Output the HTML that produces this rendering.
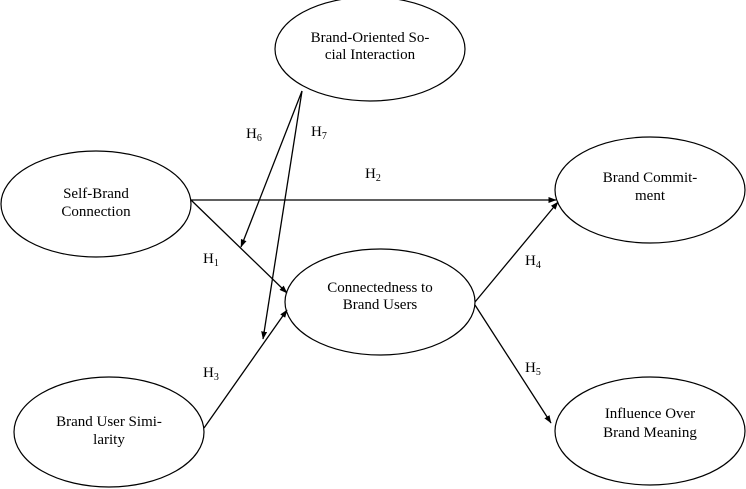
<!DOCTYPE html>
<html><head><style>body{margin:0;background:#fff}svg{display:block}text{font-family:"Liberation Serif","Times New Roman",serif;font-size:15px}</style></head><body>
<svg width="746" height="489" viewBox="0 0 746 489" xmlns="http://www.w3.org/2000/svg">
<defs><marker id="a" markerWidth="8" markerHeight="6" refX="7.5" refY="3" orient="auto" markerUnits="userSpaceOnUse"><path d="M0,0 L8,3 L0,6 z" fill="#000"/></marker></defs>
<g fill="none" stroke="#000" stroke-width="1.2">
<ellipse cx="370" cy="49" rx="95" ry="52"/>
<ellipse cx="96" cy="204" rx="95" ry="53"/>
<ellipse cx="650" cy="190" rx="95" ry="53"/>
<ellipse cx="380" cy="302" rx="95" ry="53"/>
<ellipse cx="109" cy="432" rx="95" ry="55"/>
<ellipse cx="650" cy="431" rx="95" ry="54"/>
</g>
<g stroke="#000" stroke-width="1.3" marker-end="url(#a)">
<line x1="191" y1="200" x2="556" y2="200"/>
<line x1="191" y1="200" x2="287" y2="293"/>
<line x1="204" y1="428" x2="287" y2="310"/>
<line x1="475" y1="302" x2="558" y2="202"/>
<line x1="475" y1="305" x2="551" y2="423"/>
<line x1="302" y1="91" x2="241" y2="247"/>
<line x1="302" y1="91" x2="263" y2="339"/>
</g>
<g text-anchor="middle" fill="#000">
<text x="370" y="42">Brand-Oriented So-</text>
<text x="370" y="59">cial Interaction</text>
<text x="96" y="198">Self-Brand</text>
<text x="96" y="216">Connection</text>
<text x="650" y="182">Brand Commit-</text>
<text x="650" y="200">ment</text>
<text x="380" y="292">Connectedness to</text>
<text x="380" y="309">Brand Users</text>
<text x="109" y="426">Brand User Simi-</text>
<text x="109" y="444">larity</text>
<text x="650" y="418">Influence Over</text>
<text x="650" y="437">Brand Meaning</text>
</g>
<g fill="#000">
<text x="246" y="138">H<tspan style="font-size:10px" dy="3">6</tspan></text>
<text x="311" y="136">H<tspan style="font-size:10px" dy="3">7</tspan></text>
<text x="365" y="178">H<tspan style="font-size:10px" dy="3">2</tspan></text>
<text x="203" y="263">H<tspan style="font-size:10px" dy="3">1</tspan></text>
<text x="203" y="377">H<tspan style="font-size:10px" dy="3">3</tspan></text>
<text x="525" y="265">H<tspan style="font-size:10px" dy="3">4</tspan></text>
<text x="525" y="372">H<tspan style="font-size:10px" dy="3">5</tspan></text>
</g>
</svg>
</body></html>
